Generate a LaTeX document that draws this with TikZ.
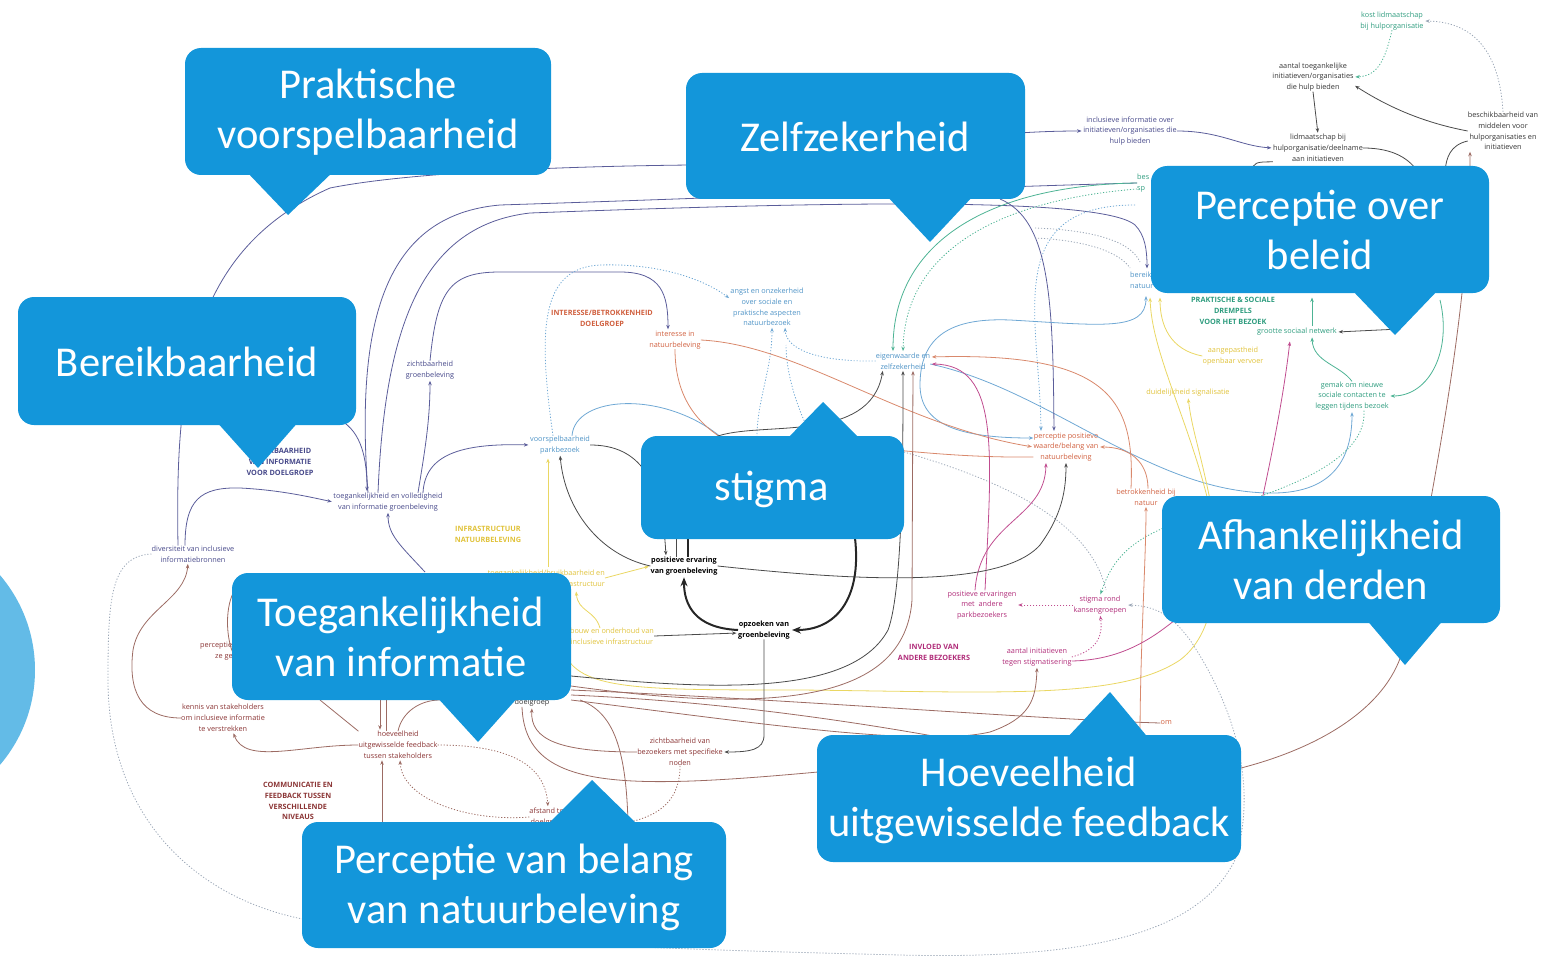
\documentclass[tikz,border=0pt]{standalone}
\usepackage{fontspec}
\setmainfont{Open Sans}
\newfontfamily\callfam{Carlito}
\usetikzlibrary{arrows.meta,calc}
\definecolor{cb}{HTML}{1396DA}
\definecolor{circ}{HTML}{63BBE7}
\definecolor{tealT}{HTML}{2E9C7E}
\definecolor{darkT}{HTML}{333333}
\definecolor{navyT}{HTML}{47498A}
\definecolor{blueT}{HTML}{4E93C6}
\definecolor{orangeT}{HTML}{D0603F}
\definecolor{yellowT}{HTML}{E0C23A}
\definecolor{magT}{HTML}{B02C79}
\definecolor{brownT}{HTML}{8A3434}
\definecolor{navyL}{HTML}{5B5D9A}
\definecolor{blueL}{HTML}{6FA8D4}
\definecolor{tealL}{HTML}{4DB394}
\definecolor{orangeL}{HTML}{D9896C}
\definecolor{brownL}{HTML}{9C6B63}
\definecolor{magL}{HTML}{C04C8F}
\definecolor{yellowL}{HTML}{EAD763}
\definecolor{darkL}{HTML}{4A4A4A}
\definecolor{grayD}{HTML}{9AA6B6}
\tikzset{
  st/.style={font=\fontsize{7.3}{10.8}\selectfont, align=center, inner sep=0pt},
  sb/.style={font=\fontsize{7.3}{10.8}\selectfont\bfseries, align=center, inner sep=0pt},
  ct/.style={font=\callfam\fontsize{42.5}{50}\selectfont, text=white, align=center, inner sep=0pt},
  ln/.style={line width=0.8pt},
  dot/.style={line width=0.8pt, dash pattern=on 1.2pt off 1.8pt},
  arr/.style={-{Stealth[length=4.5pt,width=3.5pt]}, shorten >=1.5pt},
  arrB/.style={{Stealth[length=4.5pt,width=3.5pt]}-{Stealth[length=4.5pt,width=3.5pt]}},
  tk/.style={line width=2pt, black!85},
  arrT/.style={-{Stealth[length=9pt,width=7pt]}, shorten >=2pt},
  box/.style={fill=cb, rounded corners=16pt},
}
\begin{document}
\begin{tikzpicture}[x=1pt,y=-1pt]
\useasboundingbox (0,0) rectangle (1559,963);
\fill[circ] (-111,670) circle (146);

% ---------- small text nodes ----------
\node[st,text=tealT] (kost) at (1392,21) {kost lidmaatschap\\bij hulporganisatie};
\node[st,text=darkT] (aantal) at (1313,77) {aantal toegankelijke\\initiatieven/organisaties\\die hulp bieden};
\node[st,text=navyT] (inclinfo) at (1130,131) {inclusieve informatie over\\initiatieven/organisaties die\\hulp bieden};
\node[st,text=darkT] (lid) at (1318,148) {lidmaatschap bij\\hulporganisatie/deelname\\aan initiatieven};
\node[st,text=darkT] (beschik) at (1503,131) {beschikbaarheid van\\middelen voor\\hulporganisaties en\\initiatieven};
\node[st,text=tealT,anchor=west,align=left] (bes) at (1137,183) {bes\\sp};
\node[st,text=blueT,anchor=west,align=left] (bereiknat) at (1130,280) {bereik\\natuur};
\node[sb,text=tealT] (praktT) at (1233,311) {PRAKTISCHE \& SOCIALE\\DREMPELS\\VOOR HET BEZOEK};
\node[st,text=tealT] (grootte) at (1297,332) {grootte sociaal netwerk};
\node[st,text=yellowT] (aangepast) at (1233,356) {aangepastheid\\openbaar vervoer};
\node[st,text=yellowT] (duidelijk) at (1188,393) {duidelijkheid signalisatie};
\node[st,text=tealT] (gemak) at (1352,396) {gemak om nieuwe\\sociale contacten te\\leggen tijdens bezoek};
\node[st,text=blueT] (angst) at (767,307) {angst en onzekerheid\\over sociale en\\praktische aspecten\\natuurbezoek};
\node[sb,text=orangeT] (interT) at (602,318) {INTERESSE/BETROKKENHEID\\DOELGROEP};
\node[st,text=orangeT] (interesse) at (675,340) {interesse in\\natuurbeleving};
\node[st,text=blueT] (eigen) at (903,361) {eigenwaarde en\\zelfzekerheid};
\node[st,text=navyT] (zicht) at (430,370) {zichtbaarheid\\groenbeleving};
\node[st,text=blueT] (voorsp) at (560,445) {voorspelbaarheid\\parkbezoek};
\node[st,text=orangeT] (percpos) at (1066,447) {perceptie positieve\\waarde/belang van\\natuurbeleving};
\node[st,text=orangeT] (betrok) at (1146,497) {betrokkenheid bij\\natuur};
\node[sb,text=navyT] (bereikT) at (280,462) {BEREIKBAARHEID\\VAN INFORMATIE\\VOOR DOELGROEP};
\node[st,text=navyT] (toeg) at (388,502) {toegankelijkheid en volledigheid\\van informatie groenbeleving};
\node[sb,text=yellowT] (infraT) at (488,534) {INFRASTRUCTUUR\\NATUURBELEVING};
\node[st,text=navyT] (divers) at (193,554) {diversiteit van inclusieve\\informatiebronnen};
\node[sb,text=black] (posErv) at (684,566) {positieve ervaring\\van groenbeleving};
\node[st,text=yellowT,anchor=east,align=right] (bruik) at (605,578) {toegankelijkheid/bruikbaarheid en\\infrastructuur};
\node[st,text=yellowT] (bouw) at (612,636) {bouw en onderhoud van\\inclusieve infrastructuur};
\node[sb,text=black] (opzoek) at (764,630) {opzoeken van\\groenbeleving};
\node[st,text=magT] (posErvA) at (982,605) {positieve ervaringen\\met\ \ andere\\parkbezoekers};
\node[st,text=magT] (stigmaR) at (1100,605) {stigma rond\\kansengroepen};
\node[sb,text=magT] (invloedT) at (934,652) {INVLOED VAN\\ANDERE BEZOEKERS};
\node[st,text=magT] (aantalInit) at (1037,657) {aantal initiatieven\\tegen stigmatisering};
\node[st,text=brownT,anchor=west,align=left] (percGeh) at (200,651) {perceptie dat\\\hspace*{15pt}ze gehoord};
\node[st,text=brownT] (kennis) at (223,718) {kennis van stakeholders\\om inclusieve informatie\\te verstrekken};
\node[st,text=brownT] (hoeveel) at (398,745) {hoeveelheid\\uitgewisselde feedback\\tussen stakeholders};
\node[sb,text=brownT] (commT) at (298,801) {COMMUNICATIE EN\\FEEDBACK TUSSEN\\VERSCHILLENDE\\NIVEAUS};
\node[st,text=darkT] (doelgr) at (532,703) {doelgroep};
\node[st,text=brownT] (zichtBez) at (680,752) {zichtbaarheid van\\bezoekers met specifieke\\noden};
\node[st,text=brownT] (afstand) at (548,817) {afstand tot\\doelgroep};
\node[st,text=orangeT,anchor=east] (omN) at (1172,723) {om};

% ---------- connectors: top right ----------
\draw[ln,darkL,arr] (aantal.south) -- (lid.north);
\draw[ln,darkL,arr] (beschik.west) .. controls (1420,122) and (1385,105) .. ([yshift=-8pt]aantal.east);
\draw[dot,grayD,arr] (beschik.north) .. controls (1500,60) and (1480,22) .. (kost.east);
\draw[dot,tealL,arr] (kost.south) .. controls (1385,60) and (1378,76) .. (aantal.east);
\draw[ln,navyL,arr] (inclinfo.east) .. controls (1220,131) and (1240,146) .. (lid.west);
\draw[ln,darkL] (lid.east) .. controls (1395,148) and (1410,160) .. (1418,172);
\draw[ln,darkL] (lid.south west) .. controls (1255,162) .. (1250,172);
\draw[ln,darkL] ([yshift=-10pt]beschik.west) .. controls (1450,145) and (1446,158) .. (1445,172);
\draw[ln,brownL,arr] (1241,768) .. controls (1330,745) and (1395,700) .. (1405,640) .. controls (1440,450) and (1470,300) .. ([xshift=-33pt]beschik.south);

% teal / right
\draw[ln,tealL,arr] (1312,326) -- (1312,296);
\draw[ln,tealL,arr] (gemak.north) .. controls (1340,365) and (1313,362) .. ([xshift=15pt]grootte.south);
\draw[ln,tealL,arr] (1440,300) .. controls (1452,350) and (1430,396) .. (gemak.east);
\draw[ln,darkL,arr] (1400,329) -- (grootte.east);
\draw[ln,blueL,arr] ([yshift=-3pt]eigen.east) .. controls (1050,390) and (1150,492) .. (1270,493) .. controls (1340,494) and (1352,450) .. (gemak.south);
\draw[dot,tealL,arr] ([xshift=12pt]gemak.south) .. controls (1368,470) and (1250,500) .. (1185,520) .. controls (1130,538) and (1112,560) .. (stigmaR.north);

% yellow
\draw[ln,yellowL,arr] (aangepast.west) .. controls (1170,350) and (1160,325) .. (1160,296);
\draw[ln,yellowL,arr] (1216,540) .. controls (1200,440) and (1152,360) .. (1150,296);
\draw[ln,yellowL,arr] (560,640) .. controls (570,690) and (620,690) .. (800,690) .. controls (1000,692) and (1120,700) .. (1180,660) .. controls (1220,630) and (1220,560) .. (1210,500) .. controls (1200,450) and (1192,430) .. (duidelijk.south);
\draw[ln,yellowL,arr] (bruik.east) .. controls (620,574) .. (posErv.west);
\draw[ln,yellowL,arr] (548,567) -- (548,457);
\draw[ln,yellowL,arr] (600,628) .. controls (595,610) and (578,612) .. (576,590);

% navy left
\draw[ln,navyL] ([xshift=-20pt]toeg.north) .. controls (355,320) and (385,215) .. (500,205) .. controls (750,197) and (950,188) .. (bes.west);
\draw[ln,navyL,arr] ([xshift=-10pt]toeg.north) .. controls (385,320) and (425,225) .. (530,213) .. controls (800,203) and (1100,195) .. (1135,225) .. controls (1145,235) and (1147,250) .. (1147,270);
\draw[ln,navyL,arr] ([xshift=-15pt]divers.north) .. controls (175,380) and (190,250) .. (330,188) .. controls (420,170) and (600,166) .. (690,165) .. controls (850,160) and (950,131) .. (inclinfo.west);
\draw[ln,navyL,arr] (zicht.north) .. controls (437,290) and (450,272) .. (500,272) -- (620,272) .. controls (662,272) and (668,295) .. ([xshift=-7pt]interesse.north);
\draw[ln,navyL,arr] ([xshift=30pt]toeg.north) .. controls (425,450) and (430,420) .. (zicht.south);
\draw[ln,navyL,arr] (340,420) .. controls (362,432) and (367,460) .. ([xshift=-21pt]toeg.north);
\draw[ln,navyL,arr] ([xshift=-8pt]divers.north) .. controls (185,500) and (200,487) .. (240,488) .. controls (280,490) and (310,497) .. (toeg.west);
\draw[ln,navyL,arr] ([xshift=35pt]toeg.north) .. controls (425,455) and (460,443) .. (voorsp.west);
\draw[ln,navyL,arr] (425,572) .. controls (400,545) and (388,535) .. (toeg.south);

% blue
\draw[ln,blueL] ([xshift=12pt]voorsp.north) .. controls (575,395) and (665,390) .. (722,438);
\draw[dot,blueL,arr] ([xshift=-7pt]voorsp.north) .. controls (538,330) and (540,268) .. (600,265) .. controls (660,263) and (705,280) .. ([yshift=8pt]angst.west);
\draw[dot,blueL,arr] (eigen.west) .. controls (820,362) and (786,350) .. ([xshift=18pt]angst.south);
\draw[dot,blueL,arr] (757,437) .. controls (757,400) and (772,370) .. ([xshift=5pt]angst.south);
\draw[dot,blueL] (812,437) .. controls (795,405) and (786,370) .. (786,345);
\draw[ln,tealL,arr] (bes.west) .. controls (1000,185) and (893,235) .. ([xshift=-10pt]eigen.north);
\draw[dot,tealL,arr] ([yshift=-6pt]bes.west) .. controls (1000,200) and (905,250) .. (eigen.north);
\draw[dot,blueL,arr] (1135,205) .. controls (1000,205) and (1040,320) .. ([xshift=-25pt]percpos.north);
\draw[ln,navyL,arr] (1000,199) .. controls (1050,220) and (1053,300) .. ([xshift=-12pt]percpos.north);
\draw[ln,blueL,arrB] ([yshift=9pt]percpos.west) .. controls (960,438) and (920,425) .. (920,385) .. controls (920,330) and (960,318) .. (1010,320) .. controls (1100,325) and (1146,332) .. (1146,296);
\draw[dot,grayD] (904,452) .. controls (1000,480) and (1090,520) .. (1106,590);
\draw[dot,grayD] (1035,228) .. controls (1090,230) and (1130,240) .. (1140,262);
\draw[dot,grayD] (1035,238) .. controls (1080,240) and (1118,250) .. (1130,268);

% orange / magenta
\draw[ln,orangeL,arr] (interesse.east) .. controls (800,345) and (900,425) .. (percpos.west);
\draw[ln,orangeL] (interesse.south) .. controls (675,400) and (700,425) .. (725,440);
\draw[ln,orangeL] ([yshift=-10pt]percpos.west) .. controls (950,458) and (880,448) .. (800,440);
\draw[ln,orangeL,arr] ([xshift=2pt]betrok.north) .. controls (1148,462) and (1130,447) .. (percpos.east);
\draw[ln,orangeL,arr] (1140,740) .. controls (1140,650) and (1146,560) .. (betrok.south);
\draw[ln,orangeL,arr] ([xshift=-15pt]betrok.north) .. controls (1135,400) and (1110,352) .. ([yshift=4pt]eigen.east);
\draw[ln,magL,arr] ([xshift=3pt]posErvA.north) .. controls (992,450) and (1000,365) .. ([yshift=-3pt]eigen.east);
\draw[ln,magL,arr] ([xshift=-7pt]posErvA.north) .. controls (980,520) and (1045,520) .. ([xshift=-20pt]percpos.south);
\draw[dot,magL,arr] (stigmaR.west) -- (posErvA.east);
\draw[dot,magL,arr] (aantalInit.east) .. controls (1098,650) and (1103,635) .. (stigmaR.south);
\draw[ln,magL] ([yshift=-4pt]aantalInit.east) .. controls (1120,660) and (1150,640) .. (1175,620);
\draw[ln,magL,arr] (1262,500) .. controls (1275,440) and (1285,385) .. (1290,340);

% black centre
\draw[ln,darkL,arr] (posErv.east) .. controls (850,580) and (1000,590) .. (1040,545) .. controls (1062,515) and (1066,490) .. (percpos.south);
\draw[ln,darkL,arr] (715,437) .. controls (760,420) and (870,445) .. ([xshift=-20pt]eigen.south);
\draw[ln,darkL,arr] (571,676) .. controls (700,688) and (850,700) .. (888,630) .. controls (903,590) and (903,450) .. (eigen.south);
\draw[ln,brownL,arr] (571,686) .. controls (780,715) and (905,700) .. (912,600) -- ([xshift=10pt]eigen.south);
\draw[tk,arrT] (opzoek.west) .. controls (695,628) and (684,605) .. (posErv.south);
\draw[tk,arrT] (855,538) .. controls (862,600) and (835,630) .. (opzoek.east);
\draw[tk] (688,538) -- ([xshift=4pt]posErv.north);
\draw[ln,darkL] (676,538) -- ([xshift=-8pt]posErv.north);
\draw[ln,darkL,arr] (voorsp.east) .. controls (640,445) and (662,480) .. ([xshift=-18pt]posErv.north);
\draw[ln,darkL,arr] (posErv.west) .. controls (600,555) and (565,510) .. (voorsp.south);
\draw[ln,darkL,arr] (bouw.east) -- ([yshift=-3pt]opzoek.west);
\draw[ln,darkL,arr] (opzoek.south) -- (764,735) .. controls (764,750) and (750,752) .. (zichtBez.east);

% brown bottom
\draw[ln,brownL] (571,690) .. controls (800,700) and (1050,720) .. (omN.west);
\draw[ln,brownL] (571,695) .. controls (800,705) and (980,745) .. (1070,762);
\draw[ln,brownL,arr] (571,700) .. controls (750,722) and (920,748) .. (990,732) .. controls (1030,718) and (1036,700) .. (aantalInit.south);
\draw[ln,brownL,arr] (zichtBez.west) .. controls (560,752) and (530,740) .. (doelgr.south);
\draw[ln,brownL] ([xshift=-10pt]doelgr.south) .. controls (525,790) and (620,790) .. (818,772);
\draw[ln,brownL] (580,700) .. controls (612,712) and (626,745) .. (628,823);
\draw[dot,brownL] (zichtBez.south) .. controls (680,800) and (660,815) .. (630,822);
\draw[dot,brownL,arr] (hoeveel.east) .. controls (500,745) and (545,760) .. (afstand.north);
\draw[dot,brownL,arr] (afstand.west) .. controls (470,822) and (402,800) .. ([xshift=2pt]hoeveel.south);
\draw[ln,brownL,arr] (382,823) -- ([xshift=-16pt]hoeveel.south);
\draw[ln,brownL,arr] (380,700) -- ([xshift=-18pt]hoeveel.north);
\draw[ln,brownL] (386,700) -- ([xshift=-12pt]hoeveel.north);
\draw[ln,brownL] (hoeveel.north) .. controls (402,712) and (420,700) .. (440,700);
\draw[ln,brownL] (hoeveel.north west) -- (320,700);
\draw[ln,brownL,arr] (hoeveel.west) .. controls (300,745) and (245,765) .. ([xshift=10pt]kennis.south);
\draw[ln,brownL,arr] (kennis.west) .. controls (140,718) and (128,690) .. (133,650) .. controls (140,610) and (185,600) .. ([xshift=-5pt]divers.south);
\draw[ln,brownL] (236,588) .. controls (224,605) and (226,640) .. (234,655);
\draw[dot,grayD,arr] (divers.west) .. controls (110,556) and (108,600) .. (108,680) .. controls (108,820) and (200,905) .. (320,922) .. controls (500,945) and (700,950) .. (900,955) .. controls (1100,960) and (1200,930) .. (1235,860) .. controls (1260,780) and (1230,700) .. (1190,640) .. controls (1175,620) and (1160,606) .. (stigmaR.east);

% ---------- callouts ----------
\fill[box] (185,48) rectangle (551,175);
\fill[cb] (245,170) -- (288,215) -- (335,170) -- cycle;
\node[ct] (c1) at (368,112) {Praktische\\voorspelbaarheid};

\fill[box] (686,73) rectangle (1025,199);
\fill[cb] (885,194) -- (930,242) -- (975,194) -- cycle;
\node[ct] (c2) at (855,137) {Zelfzekerheid};

\fill[box] (1151,166) rectangle (1489,293);
\fill[cb] (1350,288) -- (1395,335) -- (1440,288) -- cycle;
\node[ct] (c3) at (1320,230) {Perceptie over\\beleid};

\fill[box] (18,297) rectangle (356,425);
\fill[cb] (215,420) -- (258,468) -- (300,420) -- cycle;
\node[ct] (c4) at (187,362) {Bereikbaarheid};

\fill[box] (641,436) rectangle (904,539);
\fill[cb] (785,441) -- (823,402) -- (862,441) -- cycle;
\node[ct] (c5) at (772,489) {stigma};

\fill[box] (1162,496) rectangle (1500,623);
\fill[cb] (1365,618) -- (1405,665) -- (1445,618) -- cycle;
\node[ct] (c6) at (1331,560) {Afhankelijkheid\\van derden};

\fill[box] (232,573) rectangle (571,700);
\fill[cb] (435,695) -- (478,742) -- (520,695) -- cycle;
\node[ct] (c7) at (401,637) {Toegankelijkheid\\van informatie};

\fill[box] (817,735) rectangle (1241,862);
\fill[cb] (1065,740) -- (1110,692) -- (1150,740) -- cycle;
\node[ct] (c8) at (1029,800) {Hoeveelheid\\uitgewisselde feedback};

\fill[box] (302,822) rectangle (726,948);
\fill[cb] (545,827) -- (592,780) -- (640,827) -- cycle;
\node[ct] (c9) at (514,887) {Perceptie van belang\\van natuurbeleving};
\end{tikzpicture}
\end{document}
